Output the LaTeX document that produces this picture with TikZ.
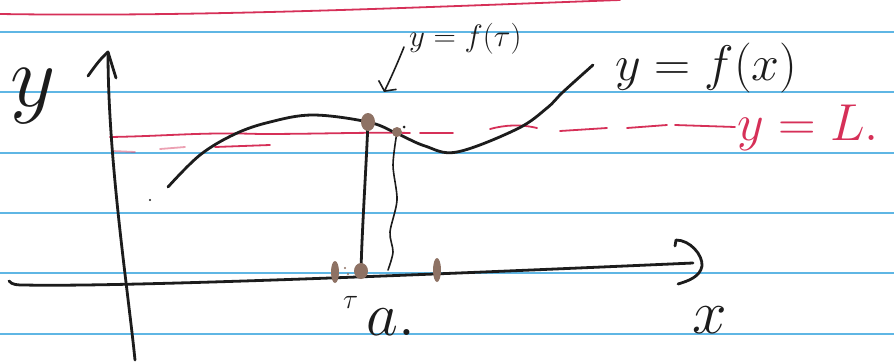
\RequirePackage{fix-cm}
\documentclass[tikz,border=0pt]{standalone}
\usetikzlibrary{arrows.meta}
\definecolor{ruleblue}{RGB}{95,182,228}
\definecolor{marginred}{RGB}{214,48,88}
\definecolor{ink}{RGB}{28,28,28}
\definecolor{smudge}{RGB}{142,114,100}
\begin{document}
\begin{tikzpicture}[
    x=1pt, y=-1pt,
    ruled/.style={draw=ruleblue, line width=1.1pt},
    pen/.style={draw=ink, line width=2.8pt, line cap=round, line join=round},
    finepen/.style={draw=ink, line width=1.6pt, line cap=round, line join=round},
    redpen/.style={draw=marginred, line width=1.8pt, line cap=round},
    blob/.style={fill=smudge},
    lbl/.style={inner sep=0pt, text=ink, font=\fontsize{#1}{#1}\selectfont},
    arr/.style={finepen, -{Straight Barb[length=7pt, width=20pt]}}
]
    \useasboundingbox (0,0) rectangle (894,362);
    \fill[white] (0,0) rectangle (894,362);

    % ruled paper
    \foreach \yy in {32,92,153,213,273,334}
        \draw[ruled] (0,\yy) -- (894,\yy);
    \draw[redpen] (0,14) .. controls (200,17) and (400,8) .. (620,0);

    % the level y = L
    \draw[redpen] (110,137) .. controls (170,136) and (200,132) .. (260,134)
        .. controls (320,134) and (370,132) .. (410,133);
    \draw[redpen, draw opacity=.45] (112,151) -- (135,152) (160,149) -- (185,147);
    \draw[redpen] (215,147) -- (270,145);
    \draw[redpen] (420,133) -- (453,133);
    \draw[redpen] (490,129) .. controls (505,125) and (520,124) .. (537,128);
    \draw[redpen] (560,131) -- (607,128);
    \draw[redpen] (627,128) -- (667,125);
    \draw[redpen] (675,125) -- (735,127);
    \node[lbl=52, text=marginred, anchor=base west] (lineL) at (737,140) {$y=L.$};

    % axes
    \coordinate (yfoot) at (135,360);
    \coordinate (ytip) at (108,52);
    \coordinate (xfoot) at (9,281);
    \coordinate (xtip) at (693,263);
    \draw[pen] (yfoot) .. controls (128,290) and (108,160) .. (ytip);
    \draw[pen] (88,76) .. controls (95,66) and (101,58) .. (ytip) -- (116,78);
    \draw[pen] (xfoot) .. controls (12,285) and (18,285) .. (24,285)
        .. controls (120,287) and (400,276) .. (xtip);
    \draw[pen] (675,246) -- (676,240) .. controls (690,240) and (703,255) .. (702,266)
        .. controls (700,277) and (688,281) .. (678,284);

    % the graph
    \draw[pen] plot[smooth, tension=0.6] coordinates {(168,187) (200,155) (235,134)
        (270,122) (313,115) (368,122) (396,133) (425,146) (457,152) (517,129)
        (547,108) (563,92) (593,65)};
    \coordinate (peakP) at (368,122);
    \coordinate (nearP) at (397,132);
    \coordinate (footP) at (361,271);
    \draw[pen] (peakP) .. controls (366,170) and (362,230) .. (footP);
    \draw[finepen] plot[smooth] coordinates {(nearP) (393,165) (397,200) (390,232)
        (393,252) (388,270)};

    % smudged points
    \fill[blob] (peakP) ellipse (7pt and 9pt);
    \fill[blob] (nearP) circle (5pt);
    \fill[blob] (footP) ellipse (7pt and 8pt);
    \fill[blob] (335,272) ellipse (4pt and 11pt);
    \fill[blob] (437,270) ellipse (4pt and 12pt);
    \fill[smudge] (345,268) circle (1.2pt) (348,274) circle (1.2pt);
    \fill[ink] (404,127) circle (1.5pt) (150,200) circle (1.2pt);

    % labels
    \node[lbl=88, anchor=base west] (ylab) at (10,106) {$y$};
    \node[lbl=62, anchor=base west] (xlab) at (692,333) {$x$};
    \node[lbl=62, anchor=base west] (alab) at (366,335) {$a.$};
    \node[lbl=28, anchor=base west] (taumark) at (343,308) {$\tau$};
    \node[lbl=31, anchor=base west] (ftau) at (409,46) {$y=f(\tau)$};
    \node[lbl=50, anchor=base west] (fx) at (615,80) {$y=f(x)$};

    \coordinate (tautail) at (404,47);
    \coordinate (tautip) at (384,92);
    \draw[arr] (tautail) .. controls (398,62) and (390,80) .. (tautip);
\end{tikzpicture}
\end{document}
